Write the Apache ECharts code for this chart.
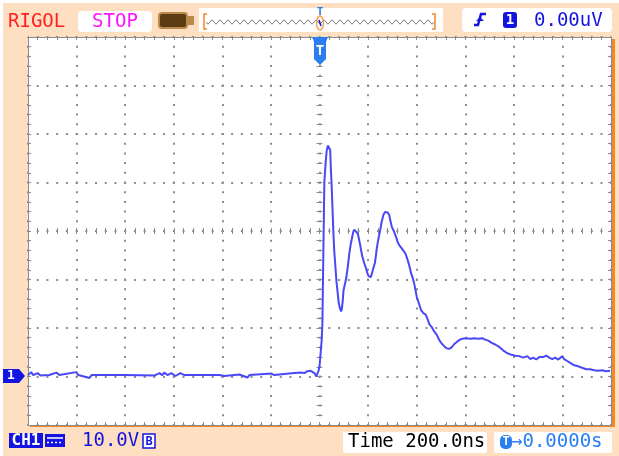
<!DOCTYPE html>
<html>
<head>
<meta charset="utf-8">
<script src="https://cdn.jsdelivr.net/npm/echarts@6/dist/echarts.min.js"></script>
<style>
  html, body { margin: 0; padding: 0; background: #fff; }
  #scope { width: 619px; height: 456px; }
</style>
</head>
<body>
<div id="scope"></div>
<script>
// trace: time in ns (200 ns/div), volts (10 V/div, ground = 0)
const timeNs = [-1200, -1187, -1178, -1161, -1148, -1112, -1083, -1071, -1001, -993, -947, -938,
  -823, -815, -803, -680, -659, -647, -639, -626, -610, -593, -573, -556, -412, -404, -392,
  -330, -297, -288, -227, -198, -186, -145, -104, -75, -62, -50, -38, -30, -21, -13, -7, -3,
  1, 5, 9, 12, 16, 20, 26, 30, 35, 42, 44, 47, 50, 53, 57, 61, 65, 70, 75, 79, 84, 89, 92,
  96, 99, 104, 110, 116, 123, 128, 134, 139, 143, 151, 158, 161, 166, 171, 176, 184, 191,
  197, 202, 207, 211, 215, 221, 228, 232, 235, 240, 245, 250, 256, 263, 269, 276, 281, 287,
  291, 298, 306, 315, 322, 328, 337, 342, 349, 355, 363, 370, 377, 384, 390, 396, 400, 407,
  418, 427, 438, 446, 452, 462, 472, 483, 493, 503, 514, 524, 534, 544, 555, 565, 575, 588,
  604, 621, 637, 654, 670, 682, 695, 707, 723, 740, 756, 773, 789, 806, 822, 839, 855, 868,
  880, 892, 905, 921, 933, 946, 958, 970, 983, 991, 999, 1007, 1020, 1032, 1049, 1065, 1081,
  1098, 1114, 1131, 1147, 1164, 1180, 1196]
const voltsV = [0.3, 0.9, 0.3, 0.7, 0.2, 0.3, 0.8, 0.3, 0.9, 0.3, -0.3, 0.3,
  0.3, 0.7, 0.3, 0.2, 0.7, 0.3, 0.8, 0.3, 0.7, 0.1, 0.7, 0.3, 0.3, 0.6, 0.1,
  0.4, -0.2, 0.3, 0.5, 0.6, 0.3, 0.5, 0.7, 0.8, 0.7, 1.1, 1.2, 0.9, 0.7, 0.0, 0.1, 1.3,
  2.6, 3.0, 7.5, 11.2, 26.1, 40.1, 44.6, 46.7, 47.6, 47.4, 46.7, 42.6, 39.5, 35.4, 29.8, 25.7, 23.0, 19.5, 17.2, 15.2, 14.1, 13.4, 13.9,
  15.8, 17.8, 18.9, 20.3, 22.4, 25.5, 27.1, 28.6, 29.8, 30.3, 30.3, 29.4, 28.7, 27.5, 26.1, 24.8, 23.4, 22.4,
  21.3, 20.7, 20.3, 20.5, 21.1, 22.2, 23.4, 24.8, 26.1, 27.7, 29.0, 30.2, 31.9, 33.3, 33.9, 34.1, 33.8, 33.3,
  32.3, 30.8, 30.0, 28.8, 27.7, 27.1, 26.5, 26.1, 25.7, 25.2, 24.0, 22.8, 21.3, 20.3, 19.1, 17.6, 16.5, 15.4,
  13.7, 13.1, 12.7, 11.7, 10.8, 10.2, 9.3, 8.6, 7.5, 6.8, 6.2, 5.8, 5.7, 6.0, 6.7, 7.1, 7.5, 7.8,
  7.9, 7.8, 7.9, 7.8, 7.9, 7.6, 7.4, 7.0, 6.6, 6.1, 5.4, 4.8, 4.5, 4.3, 4.2, 3.9, 4.2, 3.6,
  3.9, 3.5, 4.0, 4.0, 4.3, 3.9, 3.6, 3.9, 3.5, 3.8, 4.2, 3.6, 3.2, 2.8, 2.3, 2.1, 1.8,
  1.5, 1.5, 1.3, 1.2, 1.3, 1.1, 1.2]

// screen range: 12 x 200 ns, 8 x 10 V with ground one division above the bottom
const timeRange = [-1200, 1200]
const voltRange = [-10, 70]
const centerRange = [-40, 40]

const mono = '"DejaVu Sans Mono", "Liberation Mono", monospace'
const gray = '#8c8c8c'
const peach = '#fedfc1'
const blue = '#1414e0'
const lightBlue = '#2a7ef0'

const tickStyle = { color: gray, width: 1 }

// border axes: ticks on the inside of the frame
const borderAxis = (pos, range, step, dash) => ({
  type: 'value',
  position: pos,
  min: range[0],
  max: range[1],
  interval: step,
  axisLine: { show: true, onZero: false, lineStyle: { color: gray, width: 1 } },
  axisTick: { show: true, inside: true, length: 3, lineStyle: tickStyle },
  minorTick: { show: true, splitNumber: 5, length: 3, lineStyle: tickStyle },
  axisLabel: { show: false },
  splitLine: dash ? { show: true, lineStyle: { color: gray, width: 2, type: dash, dashOffset: 1 } } : { show: false }
})

// centre cross axes: ticks on both sides, one axis per side
const centerAxis = (range, step, inside, zeroIdx) => ({
  type: 'value',
  min: range[0],
  max: range[1],
  interval: step,
  axisLine: { show: false, onZero: true, onZeroAxisIndex: zeroIdx },
  axisTick: { show: true, inside: inside, length: 3, lineStyle: tickStyle },
  minorTick: { show: true, splitNumber: 5, length: 3, lineStyle: tickStyle },
  axisLabel: { show: false },
  splitLine: { show: false }
})

const chart = echarts.init(document.getElementById('scope'), null, { renderer: 'canvas' })

// little wavy memory bar in the header
let memWave = []
for (let x = 206; x <= 434; x++) {
  memWave.push([x, 22 + 2 * Math.sin((x - 206) / 8 * 2 * Math.PI)])
}

const option = {
  backgroundColor: '#ffffff',
  animation: false,
  grid: {
    left: 28, right: 8, top: 37, bottom: 31,
    containLabel: false,
    outerBoundsMode: 'none'
  },
  xAxis: [
    borderAxis('bottom', timeRange, 200, [2, 7.7]),
    borderAxis('top', timeRange, 200, null),
    centerAxis(timeRange, 200, true, 2),
    centerAxis(timeRange, 200, false, 2)
  ],
  yAxis: [
    borderAxis('left', voltRange, 10, [2, 7.72]),
    borderAxis('right', voltRange, 10, null),
    centerAxis(centerRange, 10, true, 0),
    centerAxis(centerRange, 10, false, 0)
  ],
  series: [
    {
      name: 'CH1',
      type: 'line',
      xAxisIndex: 0,
      yAxisIndex: 0,
      showSymbol: false,
      symbol: 'none',
      z: 10,
      lineStyle: { color: '#4848f6', width: 2 },
      data: timeNs.map((t, i) => [t, voltsV[i]])
    }
  ]
}
chart.setOption(option)

// markers that sit on the trace scale
const trig = chart.convertToPixel({ xAxisIndex: 0, yAxisIndex: 0 }, [0, 0])
const tx = Math.round(trig[0])
const gy = Math.round(trig[1]) - 1

const txt = (text, x, y, fill, size, extra) => Object.assign({
  type: 'text',
  z: 20,
  style: { text: text, x: x, y: y, fill: fill, font: (extra && extra.bold ? 'bold ' : '') + size + 'px ' + mono, align: (extra && extra.align) || 'left', verticalAlign: 'middle' }
})

chart.setOption({
  graphic: {
    elements: [
      // panel
      { type: 'rect', z: -10, shape: { x: 3, y: 3, width: 616, height: 453 }, style: { fill: peach } },
      { type: 'rect', z: -9, shape: { x: 30, y: 39, width: 585, height: 388 }, style: { fill: '#f5862a' } },
      { type: 'rect', z: -8, shape: { x: 28, y: 37, width: 583, height: 388 }, style: { fill: '#ffffff' } },

      // header
      txt('RIGOL', 8, 22, '#ff2020', 19),
      { type: 'rect', z: 15, shape: { x: 78, y: 11, width: 74, height: 21, r: 4 }, style: { fill: '#ffffff' } },
      txt('STOP', 115, 22, '#ff10ff', 19, { align: 'center' }),
      { type: 'rect', z: 15, shape: { x: 159, y: 13, width: 28, height: 15, r: 3 }, style: { fill: '#5c3a12', stroke: '#b88a4c', lineWidth: 2 } },
      { type: 'rect', z: 15, shape: { x: 187, y: 16, width: 7, height: 9 }, style: { fill: '#b88a4c' } },
      { type: 'rect', z: 15, shape: { x: 199, y: 8, width: 244, height: 24 }, style: { fill: '#ffffff' } },
      { type: 'polyline', z: 16, shape: { points: [[207, 14], [204, 14], [204, 29], [207, 29]] }, style: { stroke: '#f5862a', fill: null, lineWidth: 1.5 } },
      { type: 'polyline', z: 16, shape: { points: [[432, 14], [435, 14], [435, 29], [432, 29]] }, style: { stroke: '#f5862a', fill: null, lineWidth: 1.5 } },
      { type: 'polyline', z: 16, shape: { points: memWave }, style: { stroke: '#7a7a7a', fill: null, lineWidth: 1 } },
      { type: 'ellipse', z: 17, shape: { cx: tx, cy: 23, rx: 3.5, ry: 7 }, style: { stroke: '#f5a050', fill: null, lineWidth: 1.5 } },
      { type: 'line', z: 17, shape: { x1: tx - 1, y1: 20, x2: tx + 1, y2: 26 }, style: { stroke: blue, lineWidth: 1.5 } },
      txt('T', tx, 12, lightBlue, 11, { align: 'center', bold: true }),

      // trigger box
      { type: 'rect', z: 15, shape: { x: 462, y: 8, width: 150, height: 24, r: 4 }, style: { fill: '#ffffff' } },
      { type: 'polyline', z: 16, shape: { points: [[474, 25], [478, 25], [481, 14], [486, 14]] }, style: { stroke: blue, fill: null, lineWidth: 2.5 } },
      { type: 'polygon', z: 16, shape: { points: [[476, 21], [484, 21], [480, 17]] }, style: { fill: blue } },
      { type: 'rect', z: 16, shape: { x: 503, y: 12, width: 14, height: 16, r: 3 }, style: { fill: blue } },
      txt('1', 510, 20.5, '#ffffff', 14, { align: 'center', bold: true }),
      txt('0.00uV', 534, 21, blue, 19),

      // trigger position marker
      { type: 'polygon', z: 18, shape: { points: [[tx - 8, 37], [tx + 8, 37], [tx + 6, 42], [tx + 6, 59], [tx, 65], [tx - 6, 59], [tx - 6, 42]] }, style: { fill: lightBlue } },
      txt('T', tx, 51, '#ffffff', 14, { align: 'center', bold: true }),

      // channel 1 ground marker
      { type: 'polygon', z: 18, shape: { points: [[3, gy - 7], [19, gy - 7], [25, gy], [19, gy + 7], [3, gy + 7]] }, style: { fill: blue } },
      txt('1', 11, gy, '#ffffff', 13, { align: 'center', bold: true }),

      // footer
      { type: 'rect', z: 15, shape: { x: 9, y: 433, width: 34, height: 15 }, style: { fill: blue } },
      txt('CH1', 26, 441, '#ffffff', 16, { align: 'center', bold: true }),
      { type: 'rect', z: 15, shape: { x: 45, y: 434, width: 20, height: 13 }, style: { fill: blue } },
      { type: 'line', z: 16, shape: { x1: 47, y1: 438, x2: 63, y2: 438 }, style: { stroke: '#ffffff', lineWidth: 1.5 } },
      { type: 'line', z: 16, shape: { x1: 47, y1: 442.5, x2: 63, y2: 442.5 }, style: { stroke: '#ffffff', lineWidth: 1.5, lineDash: [2, 2] } },
      txt('10.0V', 82, 441, blue, 19),
      { type: 'rect', z: 15, shape: { x: 143, y: 434, width: 12, height: 14 }, style: { fill: '#ffffff', stroke: blue, lineWidth: 1.5 } },
      txt('B', 149, 441.5, blue, 12, { align: 'center', bold: true }),
      { type: 'rect', z: 15, shape: { x: 343, y: 432, width: 144, height: 21, r: 2 }, style: { fill: '#ffffff' } },
      txt('Time 200.0ns', 348, 442, '#000000', 19),
      { type: 'rect', z: 15, shape: { x: 494, y: 432, width: 118, height: 21, r: 2 }, style: { fill: '#ffffff' } },
      { type: 'rect', z: 16, shape: { x: 500, y: 435, width: 12, height: 14, r: 5 }, style: { fill: lightBlue } },
      txt('T', 506, 442, '#ffffff', 12, { align: 'center', bold: true }),
      txt('\u21920.0000s', 511, 442, lightBlue, 19)
    ]
  }
})
</script>
</body>
</html>
